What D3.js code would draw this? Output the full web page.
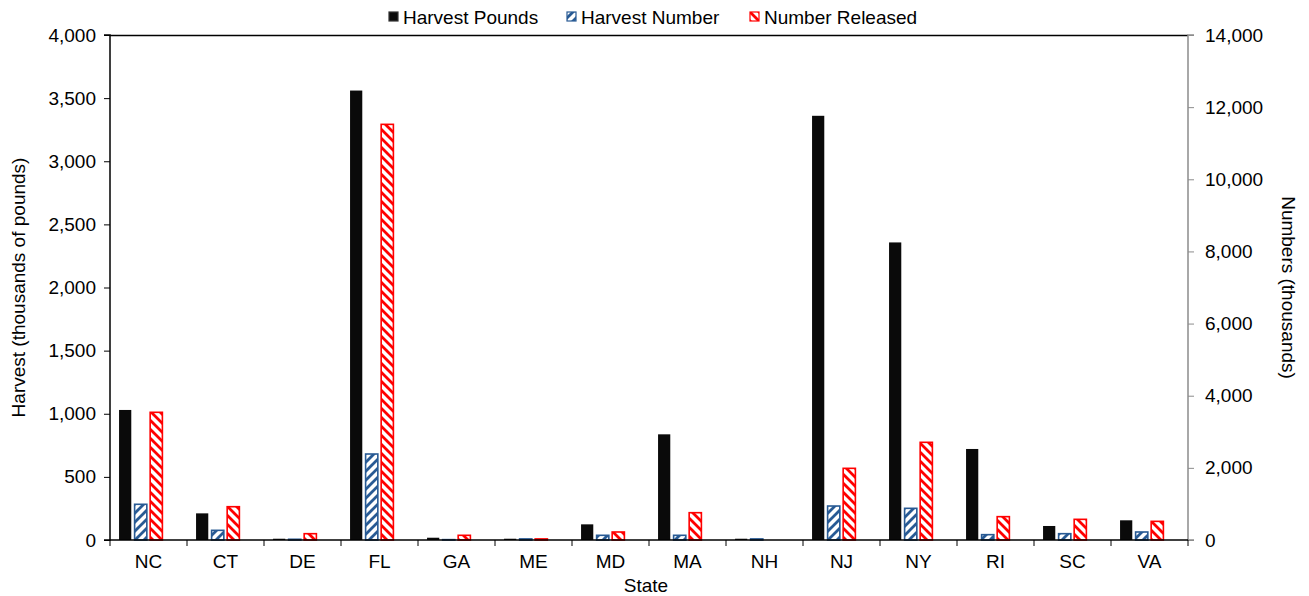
<!DOCTYPE html>
<html>
<head>
<meta charset="utf-8">
<script src="https://cdn.jsdelivr.net/npm/d3@7"></script>
<style>
  html, body { margin: 0; padding: 0; background: #fff; }
  svg { display: block; font-family: "Liberation Sans", Arial, sans-serif; }
</style>
</head>
<body>
<svg id="chart" width="1309" height="596"></svg>
<script>
// ---- data ----
const categories = ["NC","CT","DE","FL","GA","ME","MD","MA","NH","NJ","NY","RI","SC","VA"];
const harvestPounds   = [1030, 211, 10, 3560, 18, 10, 124, 837, 10, 3360, 2357, 721, 111, 156];   // thousands of pounds (left axis)
const harvestNumber   = [990, 268, 20, 2384, 10, 30, 130, 130, 30, 942, 878, 148, 175, 222];     // thousands (right axis)
const numberReleased  = [3540, 923, 175, 11523, 130, 30, 222, 757, 0, 1987, 2708, 647, 573, 517]; // thousands (right axis)
const seriesNames = ["Harvest Pounds", "Harvest Number", "Number Released"];
const clusterSlots = ["Harvest Pounds", "Harvest Number", "Number Released", "(empty)"];
const leftTicks  = [0, 500, 1000, 1500, 2000, 2500, 3000, 3500, 4000];
const rightTicks = [0, 2000, 4000, 6000, 8000, 10000, 12000, 14000];

// ---- layout ----
const svg = d3.select("#chart");
const L = 110, R = 1188, T = 35, B = 540;
const FS = 19;

const x = d3.scaleBand().domain(categories).range([L, R]).paddingInner(0).paddingOuter(0);
const xs = d3.scaleBand().domain(clusterSlots).range([0, x.bandwidth()]).paddingInner(0.15).paddingOuter(0.55);
const yL = d3.scaleLinear().domain([0, 4000]).range([B, T]);
const yR = d3.scaleLinear().domain([0, 14000]).range([B, T]);

// patterns
const defs = svg.append("defs");
const blue = "#285A94", red = "#FF0000";
const P = 9;
const pBlue = defs.append("pattern").attr("id", "hatchBlue").attr("patternUnits", "userSpaceOnUse")
  .attr("width", P).attr("height", P);
pBlue.append("rect").attr("width", P).attr("height", P).attr("fill", "#fff");
pBlue.append("path").attr("d", `M0,${P} L${P},0 M-3,3 L3,-3 M${P-3},${P+3} L${P+3},${P-3}`)
  .attr("stroke", blue).attr("stroke-width", 2.8);
const pRed = defs.append("pattern").attr("id", "hatchRed").attr("patternUnits", "userSpaceOnUse")
  .attr("width", P).attr("height", P);
pRed.append("rect").attr("width", P).attr("height", P).attr("fill", "#fff");
pRed.append("path").attr("d", `M0,0 L${P},${P} M-3,${P-3} L3,${P+3} M${P-3},-3 L${P+3},3`)
  .attr("stroke", red).attr("stroke-width", 2.8);

const styles = {
  "Harvest Pounds":  { fill: "#0a0a0a", stroke: "#333", sw: 0.8, scale: yL, values: harvestPounds },
  "Harvest Number":  { fill: "url(#hatchBlue)", stroke: blue, sw: 1.6, scale: yR, values: harvestNumber },
  "Number Released": { fill: "url(#hatchRed)", stroke: red, sw: 1.6, scale: yR, values: numberReleased }
};

// bars
seriesNames.forEach(name => {
  const st = styles[name];
  svg.append("g").selectAll("rect").data(categories).join("rect")
    .attr("x", (c) => x(c) + xs(name) + 0.5)
    .attr("width", xs.bandwidth() - 1)
    .attr("y", (c, i) => st.scale(st.values[i]))
    .attr("height", (c, i) => Math.max(0, B - st.scale(st.values[i])))
    .attr("fill", st.fill)
    .attr("stroke", st.values === harvestPounds ? "none" : st.stroke)
    .attr("stroke-width", st.sw)
    .attr("display", (c, i) => st.values[i] > 0 ? null : "none");
});

// top border
svg.append("line").attr("x1", L).attr("x2", R).attr("y1", T + 0.5).attr("y2", T + 0.5)
  .attr("stroke", "#000").attr("stroke-width", 1.5);

// left axis
const gL = svg.append("g").attr("transform", `translate(${L},0)`)
  .call(d3.axisLeft(yL).tickValues(leftTicks).tickSize(6).tickPadding(8).tickFormat(d3.format(",")));
gL.select(".domain").attr("stroke", "#000").attr("stroke-width", 1.5).attr("d", `M-6,${B}H0V${T}H-6`);
gL.selectAll(".tick line").attr("stroke", "#000");
gL.selectAll(".tick text").attr("font-size", FS).attr("fill", "#000").attr("font-family", "Liberation Sans, Arial, sans-serif");

// right axis
const gR = svg.append("g").attr("transform", `translate(${R},0)`)
  .call(d3.axisRight(yR).tickValues(rightTicks).tickSize(6).tickPadding(11).tickFormat(d3.format(",")));
gR.select(".domain").attr("stroke", "#8c8c8c").attr("stroke-width", 1.5).attr("d", `M6,${B}H0V${T}H6`);
gR.selectAll(".tick line").attr("stroke", "#8c8c8c");
gR.selectAll(".tick text").attr("font-size", FS).attr("fill", "#000").attr("font-family", "Liberation Sans, Arial, sans-serif");

// bottom axis
const gB = svg.append("g").attr("transform", `translate(0,${B})`)
  .call(d3.axisBottom(x).tickSize(0).tickPadding(15));
gB.select(".domain").attr("stroke", "#000").attr("stroke-width", 1.5).attr("d", `M${L},0H${R}`);
gB.selectAll(".tick text").attr("font-size", FS).attr("fill", "#000").attr("font-family", "Liberation Sans, Arial, sans-serif");
// category boundary ticks
const bounds = categories.map(c => x(c)).concat([x(categories[categories.length - 1]) + x.bandwidth()]);
svg.append("g").selectAll("line").data(bounds).join("line")
  .attr("x1", d => d).attr("x2", d => d).attr("y1", B).attr("y2", B + 6)
  .attr("stroke", "#000").attr("stroke-width", 1);

// axis titles
svg.append("text").attr("x", (L + R) / 2 - 3).attr("y", 592).attr("text-anchor", "middle")
  .attr("font-size", FS).text("State");
svg.append("text").attr("transform", `translate(25,${(T + B) / 2}) rotate(-90)`)
  .attr("text-anchor", "middle").attr("font-size", FS).text("Harvest (thousands of pounds)");
svg.append("text").attr("transform", `translate(1282,${(T + B) / 2}) rotate(90)`)
  .attr("text-anchor", "middle").attr("font-size", FS).text("Numbers (thousands)");

// legend
const legendPos = [389, 567, 750];
const lg = svg.append("g");
seriesNames.forEach((name, i) => {
  const st = styles[name];
  lg.append("rect").attr("x", legendPos[i]).attr("y", 12).attr("width", 9).attr("height", 9)
    .attr("fill", st.fill).attr("stroke", st.stroke).attr("stroke-width", 1.2);
  lg.append("text").attr("x", legendPos[i] + 14).attr("y", 24).attr("font-size", FS).text(name);
});
</script>
</body>
</html>
